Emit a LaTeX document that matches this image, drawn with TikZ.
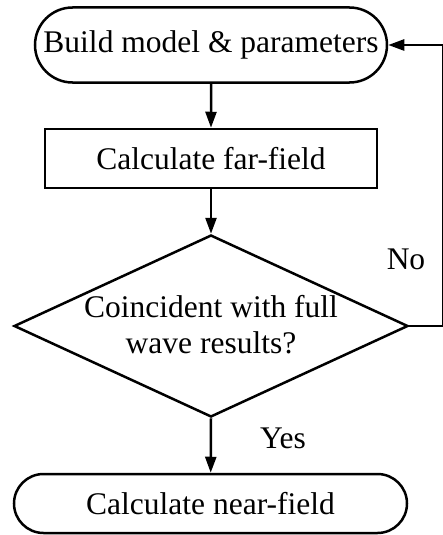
\documentclass[tikz,border=0pt]{standalone}
\usepackage{fontspec}
\setmainfont{Liberation Serif}
\usetikzlibrary{shapes.misc,shapes.geometric,arrows.meta}
\begin{document}
\begin{tikzpicture}[x=1pt,y=-1pt,
  every node/.style={font=\fontsize{31.5}{36}\selectfont, inner sep=0pt, line width=2.5pt},
  terminal/.style={draw, rounded rectangle},
  procbox/.style={draw, rectangle},
  decision/.style={draw, diamond},
  flow/.style={line width=2.5pt, -{Triangle[length=16pt,width=11pt]}},
  lbl/.style={}]
\useasboundingbox (0,0) rectangle (443,535);
\node[terminal, minimum width=352pt, minimum height=75pt] (build) at (211,45) {Build model \& parameters};
\node[procbox, minimum width=332pt, minimum height=59pt] (far) at (211,158.5) {Calculate far-field};
\node[decision, minimum width=394pt, minimum height=182pt] (dec) at (211,326) {};
\node[align=center] (dectext) at (211,325) {Coincident with full\\wave results?};
\node[terminal, minimum width=393pt, minimum height=59pt] (near) at (210.5,503.5) {Calculate near-field};
\coordinate (c1) at (443.7,326);
\coordinate (c2) at (443.7,45);
\draw[flow] (build) -- (far);
\draw[flow] (far) -- (dec.north);
\draw[flow] (dec.south) -- (near);
\draw[flow] (dec.east) -- (c1) -- (c2) -- (build.east);
\node[lbl] (no) at (406,259) {No};
\node[lbl] (yes) at (283,438) {Yes};
\end{tikzpicture}
\end{document}
